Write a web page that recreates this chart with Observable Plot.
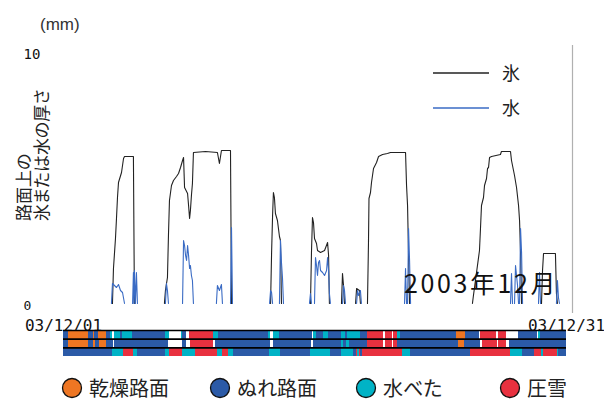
<!DOCTYPE html>
<html><head><meta charset="utf-8">
<script src="https://cdn.jsdelivr.net/npm/d3@7"></script>
<script src="https://cdn.jsdelivr.net/npm/@observablehq/plot@0.6"></script>
<style>
body{margin:0;background:#fff;}
#wrap{position:relative;width:604px;height:401px;overflow:hidden;background:#fff;}
#main,#strip,#over{position:absolute;left:0;}
#main{top:0;} #strip{top:329px;} #over{top:0;pointer-events:none;}
</style></head><body>
<div id="wrap"><div id="main"></div><div id="strip"></div><svg id="over" width="604" height="401"></svg></div>
<script>
// ---- data: days since 2003-12-01 00:00, thickness in mm (null = break) ----
const iceDay = [
 2.92,2.98,3.10,3.16,3.22,3.28,3.46,3.58,3.64,4.17,4.23, null,
 6.02,6.08,6.20,6.26,6.32,6.44,6.56,6.74,6.86,6.98,7.10,7.16,7.22,7.40,7.46,7.52,7.57,7.63,7.69,7.75,8.47,9.18,9.30,9.42,9.96,10.02, null,
 12.35,12.41,12.47,12.52,12.58,12.64,12.76,12.82,12.88,12.94,13.00, null,
 14.73,14.79,14.85,14.91,14.97,15.09,15.15,15.33,15.57,15.75,15.81,15.86, null,
 16.58,16.64,16.70,16.76, null,
 17.42,17.48,17.65,17.71, null,
 18.13,18.19,18.22,18.31,18.37,18.43,18.49,18.67,18.79,19.03,19.32,19.50,20.40,20.46,20.52,20.58,20.64, null,
 24.39,24.45,24.81,24.87,24.93,25.05,25.11,25.23,25.29,25.35,25.41,25.53,26.06,26.12,26.66,26.72,26.84,26.90,27.02,27.14,27.20,27.26,27.32, null,
 28.51,28.57,28.63,29.34,29.40,29.46
];
const iceMm = [
 0,1.4,2.6,3.4,4.24,4.84,5.24,5.8,5.88,5.88,0, null,
 0,0.52,1.04,2.72,4.12,4.72,4.92,5.08,5.2,5.44,5.72,5.84,4.64,4.4,3.92,3.4,3.72,4.32,4.8,6.04,6.08,6.04,5.6,6.12,6.12,0, null,
 0,2.0,3.52,4.44,4.24,3.6,3.32,3.0,2.68,2.52,0, null,
 0,2.04,3.44,3.24,2.6,2.4,2.12,2.04,2.12,2.44,1.92,0, null,
 0,1.2,0.72,0, null,
 0,0.6,0.52,0, null,
 0,2.44,4.2,4.44,4.84,5.12,5.4,5.64,5.88,5.96,6.0,6.04,6.04,4.72,3.92,1.92,0, null,
 0,0.32,2.12,3.0,3.92,4.24,4.72,5.0,5.4,5.44,5.84,5.88,5.96,6.08,6.08,5.72,5.32,5.12,4.64,3.92,3.32,2.04,0, null,
 0,1.32,2.0,2.0,0.4,0
];
const waterDay = [
 2.86,2.92,3.04,3.16,3.28,3.40,3.52,3.64, null,
 4.12,4.17,4.20,4.23,4.29,4.35,4.41, null,
 6.08,6.14,6.20,6.26, null,
 7.10,7.16,7.22,7.28,7.34,7.40,7.46,7.52,7.57,7.63,7.69,7.75, null,
 9.12,9.18,9.30,9.42,9.48, null,
 9.96,10.02,10.08, null,
 12.29,12.35,12.41,12.47, null,
 12.88,12.94,13.00,13.06,13.12, null,
 14.67,14.73,14.79, null,
 14.97,15.03,15.09,15.15,15.21,15.27,15.33,15.45,15.57,15.69,15.75,15.81,15.86,15.92, null,
 16.64,16.70,16.76,16.82, null,
 17.48,17.54,17.59,17.71,17.77, null,
 20.34,20.40,20.46, null,
 20.52,20.58,20.64,20.70, null,
 26.66,26.72,26.78, null,
 26.90,26.96,27.02,27.08,27.14, null,
 27.20,27.26,27.32,27.38, null,
 28.33,28.39,28.45, null,
 29.40,29.46,29.52,29.58
];
const waterMm = [
 0,0.8,0.72,0.64,0.76,0.52,0.44,0, null,
 0,1.24,0,1.32,0,1.24,0, null,
 0,0.8,0.52,0, null,
 0,2.52,2.32,1.92,1.72,2.32,1.92,1.4,1.52,1.12,0.92,0, null,
 0,0.72,0.52,0.76,0, null,
 0,3.04,0, null,
 0,0.52,0.44,0, null,
 0,2.52,1.64,1.04,0, null,
 0,0.4,0, null,
 0,1.84,1.52,1.12,1.64,1.72,1.32,1.24,1.12,1.32,1.84,1.32,0.4,0, null,
 0,0.72,0.52,0, null,
 0,0.52,0.32,0.52,0, null,
 0,1.4,0, null,
 0,3.0,1.72,0, null,
 0,1.2,0, null,
 0,1.52,1.12,0.72,0, null,
 0,3.0,2.04,0, null,
 0,1.24,0, null,
 0,0.92,0.24,0
];
// road surface state strip: start day of each state, per row
const row1Start = [0,0.30,1.49,1.79,1.85,2.09,2.56,2.80,2.92,3.04,3.40,3.52,4.12,6.08,6.32,7.04,7.10,7.34,7.52,8.95,9.24,12.23,12.35,12.52,12.88,14.85,14.91,15.09,15.51,15.81,16.58,16.82,16.94,17.71,18.13,19.09,19.20,19.62,19.68,19.92,20.10,23.44,23.98,24.81,24.87,25.82,25.94,26.42,27.14,28.27,28.33,28.45];
const row1State = ["W","D","W","D","W","D","W","S","N","S","W","S","W","S","N","S","W","N","C","S","W","S","N","S","W","N","S","W","S","W","S","W","S","W","C","N","C","N","C","S","W","D","W","N","C","N","C","N","W","N","S","W"];
const row2Start = [0,0.30,1.49,1.79,1.91,2.15,2.56,2.98,3.04,6.26,7.10,7.34,7.57,8.95,9.07,12.35,12.52,14.79,14.91,16.58,16.70,16.88,17.06,18.13,19.09,19.20,19.62,19.68,19.92,23.56,23.92,24.87,24.99,25.88,25.94,26.42,26.60];
const row2State = ["W","D","W","D","W","D","W","N","W","N","W","N","C","N","W","N","W","N","W","S","W","S","W","C","N","C","N","C","W","D","W","N","C","N","C","N","W"];
const row3Start = [0,2.92,3.58,4.17,4.41,6.08,6.32,7.10,7.87,9.18,9.48,9.84,10.14,12.29,12.94,14.73,15.92,16.58,17.30,17.48,17.54,17.65,17.71,17.83,20.22,20.70,24.27,26.66,27.38,28.09,28.51,28.63,29.46,29.52];
const row3State = ["W","S","C","S","W","S","C","S","C","S","C","S","W","S","W","S","W","S","W","C","S","C","W","C","S","W","C","S","W","C","S","C","S","W"];
const stateCodes = ["D","W","S","C","N"];
const stateLabels = ["乾燥路面","ぬれ路面","水べた","圧雪",""];
const stateColors = ["#EE7623","#2B5AA7","#00B3C6","#E8313F","#FFFFFF"];
const dateTicks = [0,30];
const dateLabels = ["03/12/01","03/12/31"];
const yTicks = [0,10];
const seriesNames = ["氷","水"];
const seriesColors = ["#222222","#3A6BC4"];
const periodLabel = "2003年12月";
const unitLabel = "(mm)";
const yLabelLines = ["路面上の","氷または水の厚さ"];

// ---- build tables ----
const iceRows = iceDay.map((d,i)=>({day:d, mm:iceMm[i]}));
const waterRows = waterDay.map((d,i)=>({day:d, mm:waterMm[i]}));
const segs = [];
[[row1Start,row1State],[row2Start,row2State],[row3Start,row3State]].forEach(([st,sv],r)=>{
  st.forEach((s,i)=>segs.push({x1:s, x2: i+1<st.length? st[i+1] : 30, r0:r, r1:r+1, state:sv[i]}));
});

const monoFont = "'DejaVu Sans Mono', monospace";
const main = Plot.plot({
  width: 604, height: 330,
  marginLeft: 63, marginRight: 32, marginTop: 45, marginBottom: 18,
  x: {domain: [0,30], range: [63,566]},
  y: {domain: [0,10], range: [303,53]},
  style: {background: "transparent", overflow: "visible"},
  marks: [
    Plot.frame({anchor: "right", stroke: "#b0b0b0", strokeWidth: 1.2}),
    Plot.line(iceRows, {x: "day", y: "mm", stroke: seriesColors[0], strokeWidth: 1.1}),
    Plot.line(waterRows, {x: "day", y: "mm", stroke: seriesColors[1], strokeWidth: 1.1}),
    Plot.axisY([yTicks[1]], {tickSize: 0, tickPadding: 40, textAnchor: "start", dy: 1, fontSize: 14, fontFamily: monoFont, fill: "#111", label: null}),
    Plot.axisY([yTicks[0]], {tickSize: 0, tickPadding: 40, textAnchor: "start", dy: 2, fontSize: 13, fontFamily: monoFont, fill: "#111", label: null}),
    Plot.axisX(dateTicks, {tickSize: 0, tickPadding: 7, tickFormat: d => dateLabels[dateTicks.indexOf(d)], fontSize: 16, fontFamily: monoFont, fill: "#111", label: null})
  ]
});
document.getElementById("main").appendChild(main);

const strip = Plot.plot({
  width: 604, height: 28, marginLeft: 0, marginRight: 0, marginTop: 0, marginBottom: 0,
  x: {domain: [0,30], range: [63,566], axis: null},
  y: {domain: [0,3], range: [1,27], axis: null},
  color: {domain: stateCodes, range: stateColors},
  style: {background: "transparent", overflow: "visible"},
  marks: [
    Plot.rect(segs, {x1: "x1", x2: "x2", y1: "r0", y2: "r1", fill: "state", shapeRendering: "crispEdges"}),
    Plot.ruleY([0,1,2], {x1: 0, x2: 30, stroke: "#000", strokeWidth: 1.6})
  ]
});
document.getElementById("strip").appendChild(strip);

// ---- text & legends ----
const jp = "'Noto Sans CJK JP', sans-serif";
const ov = d3.select("#over");
ov.append("text").attr("x",40).attr("y",30).attr("font-size",17).attr("font-family","'Liberation Sans',sans-serif").attr("fill","#333").text(unitLabel);
yLabelLines.forEach((t,i)=>{
  ov.append("text").attr("transform",`translate(${30+i*18},221) rotate(-90)`).attr("font-size",17).attr("font-family",jp)
    .style("font-feature-settings","'palt'").attr("fill","#222").text(t);
});
ov.append("text").attr("x",404).attr("y",293).attr("font-size",25).attr("letter-spacing",2.6).attr("font-family",jp).attr("fill","#111").text(periodLabel);
seriesNames.forEach((n,i)=>{
  const y = 73 + i*35;
  ov.append("line").attr("x1",433).attr("x2",489).attr("y1",y).attr("y2",y).attr("stroke",seriesColors[i]).attr("stroke-width",1.4);
  ov.append("text").attr("x",502).attr("y",y+7).attr("font-size",18).attr("font-family",jp).attr("fill","#222").text(n);
});
const legX = [72,220,366,510];
stateCodes.slice(0,4).forEach((c,i)=>{
  ov.append("circle").attr("cx",legX[i]).attr("cy",388).attr("r",9.5).attr("fill",stateColors[i]).attr("stroke","#111").attr("stroke-width",1.3);
  ov.append("text").attr("x",legX[i]+17).attr("y",396).attr("font-size",20).attr("font-family",jp)
    .style("font-feature-settings","'palt'").attr("fill","#222").text(stateLabels[i]);
});
</script>
</body></html>
